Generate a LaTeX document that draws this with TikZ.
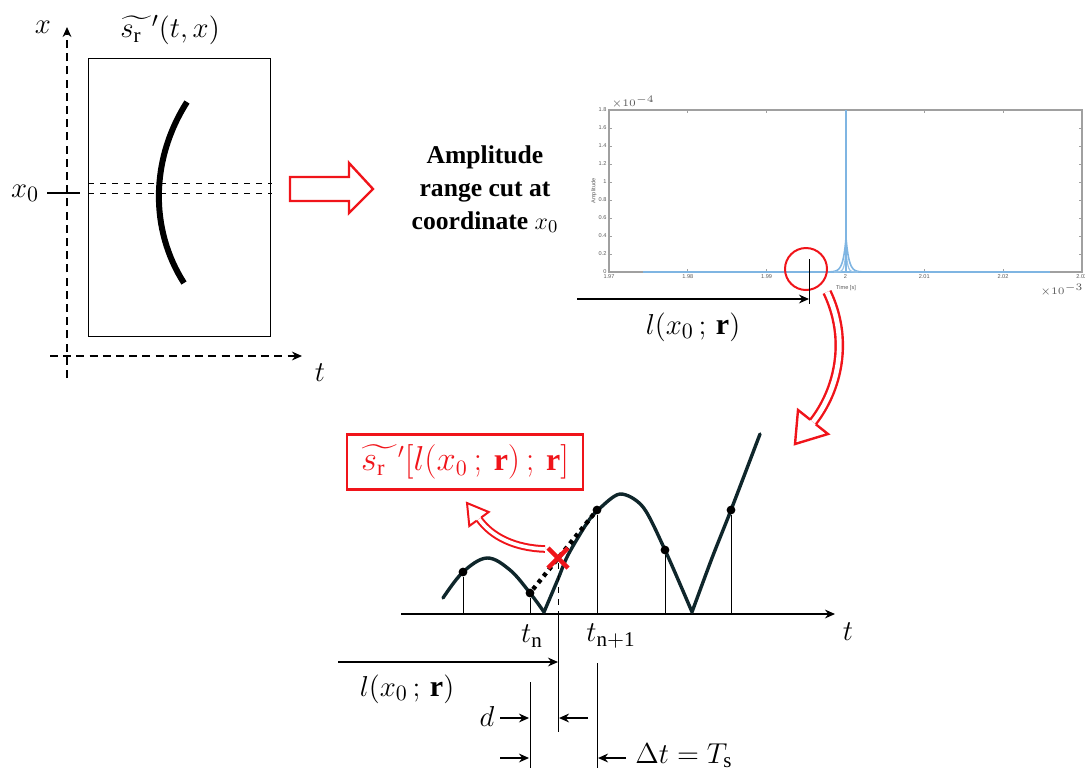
\documentclass[tikz,border=0pt]{standalone}
\usepackage{amsmath}
\usepackage{fontspec}
\setmainfont{Liberation Serif}
\newfontfamily\plotfont{Liberation Sans}
\usetikzlibrary{arrows.meta,calc}
\definecolor{redline}{HTML}{F0141A}
\definecolor{sigblue}{HTML}{7FB5E2}
\definecolor{plotgrey}{HTML}{A0A0A0}
\definecolor{wave}{HTML}{0F262B}
\newcommand{\srt}{\widetilde{s_{\mathrm{r}}\mkern7mu}\mkern-0.5mu'}

\begin{document}
\begin{tikzpicture}[x=0.5pt,y=-0.5pt,>={Stealth[length=5pt,width=4.4pt]},
  lab/.style={font=\fontsize{15}{17}\selectfont,inner sep=0pt},
  axisdash/.style={line width=1pt,dash pattern=on 4pt off 2.6pt},
  thinl/.style={line width=0.5pt},
  sample/.style={circle,fill=black,inner sep=0pt,minimum size=4.4pt},
  tick/.style={font=\plotfont\fontsize{2.8}{3}\selectfont,inner sep=0.6pt,text=black!65},
  hollow/.style={draw=redline,line width=1.2pt,line join=miter},
  wavel/.style={draw=wave,line width=1.7pt,line cap=round}]
\useasboundingbox (0,0) rectangle (1085,772);

% data frame s_r'(t,x)
\node[lab] (xlab) at (43,27) {$x$};
\node[lab] (tlab) at (320,373) {$t$};
\node[lab] (frametitle) at (170,30) {$\srt(t,x)$};
\node[lab] (xnot) at (25,193) {$x_0$};
\coordinate (xax0) at (67,378);
\coordinate (xax1) at (67,27);
\coordinate (tax0) at (50,356);
\coordinate (tax1) at (302,356);
\draw[axisdash,->] (xax0)--(xax1);
\draw[axisdash,->] (tax0)--(tax1);
\node[draw,thinl,minimum width=91pt,minimum height=139pt,inner sep=0pt] (frame) at (179,197) {};
\draw[thinl,dashed] (88,183)--(272,183);
\draw[thinl,dashed] (88,193)--(272,193);
\draw[line width=0.7pt] (47,193)--(80,193);
\draw[line width=3pt] (187,102) .. controls (150,160) and (150,230) .. (184,283);

% hollow arrow to the range cut
\draw[hollow] (290,177)--(349,177)--(349,163)--(373,189)--(349,213)--(349,201)--(290,201)--cycle;
\node[font=\bfseries\fontsize{12.8}{16.5}\selectfont,align=center,inner sep=0pt] (cuttxt) at (485,189)
  {Amplitude\\range cut at\\coordinate $x_0$};

% range cut plot
\draw[plotgrey,line width=0.6pt] (609,110) rectangle (1082,272);
\foreach \v [count=\i from 0] in {1.97,1.98,1.99,2,2.01,2.02,2.03}{
  \draw[plotgrey,line width=0.4pt] (609+78.8*\i,272)--++(0,-3) (609+78.8*\i,110)--++(0,3);
  \node[tick,anchor=north] (xt\i) at (609+78.8*\i,273) {\v};
}
\foreach \v [count=\i from 0] in {0,0.2,0.4,0.6,0.8,1,1.2,1.4,1.6,1.8}{
  \draw[plotgrey,line width=0.4pt] (609,272-18*\i)--++(3,0) (1082,272-18*\i)--++(-3,0);
  \node[tick,anchor=east] (yt\i) at (608,272-18*\i) {\v};
}
\node[tick,anchor=south west] (yexp) at (610,110) {$\times10^{-4}$};
\node[tick,rotate=90] (ylab) at (594,191) {Amplitude};
\node[tick] (xlab2) at (846,288) {Time [s]};
\node[tick,anchor=north east] (xexp) at (1085,282) {$\times10^{-3}$};
\draw[sigblue,line width=0.7pt] (643,272)--(1050,272);
\draw[sigblue,line width=0.8pt] plot[domain=828:864,samples=73] (\x,{272-34*exp(-abs(\x-846)/3)});
\draw[sigblue!80,line width=0.6pt] plot[domain=834:858,samples=49] (\x,{272-22*exp(-abs(\x-846)/1.6)});
\draw[sigblue,line width=0.9pt] (846,272)--(846,110);
\node[draw=redline,circle,line width=1pt,minimum size=21pt,inner sep=0pt] (ring) at (806,269) {};
\coordinate (lstart) at (577,299);
\coordinate (lmark) at (809,299);
\draw[thinl] (809,259)--(809,304);
\draw[->,line width=1pt] (lstart)--(lmark);
\node[lab] (ltop) at (693,327) {$l(x_0\,;\,\mathbf{r})$};

% curved hollow arrow down
\draw[redline,line width=1.2pt,double=white,double distance=2.4pt] (827,292) .. controls (850,340) and (838,390) .. (813,422);
\draw[hollow] (810.2,419.7)--(798,410)--(795,444)--(828,434)--(815.8,424.3);

% sampled signal
\coordinate (tax2a) at (401,614);
\coordinate (tax2b) at (835,614);
\draw[->,line width=0.8pt] (tax2a)--(tax2b);
\node[lab] (tlab2) at (848,632) {$t$};
\draw[wavel] plot[smooth,tension=0.6] coordinates {(443,598) (463,572) (487,558) (510,570) (530,593) (544,612)};
\draw[wavel] plot[smooth,tension=0.5] coordinates {(544,612) (558,579) (568,555) (587,523) (598,510) (620,494) (643,507) (665,550) (692,612)};
\draw[wavel] plot[smooth,tension=0.5] coordinates {(692,612) (712,558) (731,510) (760,434)};
\foreach \p [count=\k] in {(463,572),(530,593),(597,510),(665,550),(731,510)}{
  \node[sample] (s\k) at \p {};
  \draw[thinl] (s\k) -- (s\k |- tax2a);
}
\draw[line width=2.2pt,dash pattern=on 2pt off 2.2pt] (s2)--(s3);
\coordinate (cross) at (558,558);
\draw[redline,line width=2.2pt] ($(cross)+(-10,-10)$)--($(cross)+(10,10)$) ($(cross)+(-10,10)$)--($(cross)+(10,-10)$);

% picked value
\draw[redline,line width=1pt,double=white,double distance=1.8pt] (545,549) .. controls (515,548) and (492,537) .. (479,519);
\draw[hollow,line width=1pt] (481.3,517.4)--(488.7,512)--(467,503)--(469.3,526)--(476.7,520.6);
\node[draw=redline,line width=1.2pt,text=redline,lab,font=\fontsize{16}{18}\selectfont,minimum width=118pt,minimum height=27.5pt] (pickbox) at (465,462)
  {$\srt[l(x_0\,;\,\mathbf{r})\,;\,\mathbf{r}]$};

% sampling geometry
\node[lab] (tn) at (532,636) {$t_{\mathrm{n}}$};
\node[lab] (tn1) at (611,636) {$t_{\mathrm{n+1}}$};
\coordinate (lbstart) at (338,662);
\coordinate (lbmark) at (558,662);
\draw[thinl,dashed] (558,563)--(558,614);
\draw[thinl] (558,614)--(558,732);
\draw[->,line width=1pt] (lbstart)--(lbmark);
\node[lab] (lbot) at (407,689) {$l(x_0\,;\,\mathbf{r})$};
\draw[thinl] (530,682)--(530,768);
\draw[thinl] (597,663)--(597,768);
\node[lab] (dlab) at (487,716) {$d$};
\draw[->,line width=0.9pt] (500,718)--(529,718);
\draw[->,line width=0.9pt] (588,718)--(559,718);
\draw[->,line width=0.9pt] (500,758)--(529,758);
\draw[->,line width=0.9pt] (626,758)--(598,758);
\node[lab] (dtlab) at (684,756) {$\Delta t=T_{\mathrm{s}}$};
\end{tikzpicture}
\end{document}
